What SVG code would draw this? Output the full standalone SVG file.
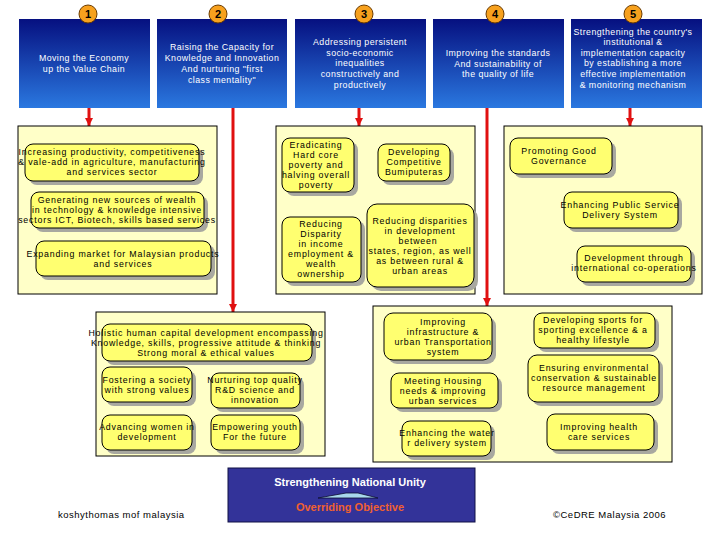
<svg xmlns="http://www.w3.org/2000/svg" width="720" height="540" viewBox="0 0 720 540">
<defs>
<linearGradient id="hdr" x1="0" y1="0" x2="0" y2="1">
<stop offset="0" stop-color="#061080"/>
<stop offset="1" stop-color="#2a78e0"/>
</linearGradient>
<marker id="ah" viewBox="0 0 10 10" refX="10" refY="5" markerWidth="8" markerHeight="9" orient="auto" markerUnits="userSpaceOnUse">
<path d="M0,0 L10,5 L0,10 z" fill="#e01010"/>
</marker>
</defs>
<style>
.hdr{fill:url(#hdr);stroke:none}
.ht{font-family:"Liberation Sans",Arial,sans-serif;font-size:8.8px;fill:#fff;text-anchor:middle;letter-spacing:0.45px}
.num circle{fill:#f7a11e;stroke:#6b3b00;stroke-width:1}
.nt{font-family:"Liberation Sans",Arial,sans-serif;font-size:11px;font-weight:bold;fill:#000;text-anchor:middle}
.panel{fill:#ffffc8;stroke:#000;stroke-width:1}
.sh{fill:#a8a8a0;stroke:none}
.bx{fill:#ffff70;stroke:#000;stroke-width:1}
.t{font-family:"Liberation Sans",Arial,sans-serif;font-size:8.8px;fill:#000;text-anchor:middle;letter-spacing:0.8px}
.red{stroke:#e01010;stroke-width:3;fill:none}
.foot{font-family:"Liberation Sans",Arial,sans-serif;font-size:9.5px;fill:#000;letter-spacing:0.5px}
.ut{font-family:"Liberation Sans",Arial,sans-serif;font-size:11px;font-weight:bold;text-anchor:middle}
</style>
<rect width="720" height="540" fill="#fff"/>

<g id="connectors">
<line class="red" x1="89" y1="108" x2="89" y2="126" marker-end="url(#ah)"/>
<line class="red" x1="233" y1="108" x2="233" y2="312" marker-end="url(#ah)"/>
<line class="red" x1="359" y1="108" x2="359" y2="126" marker-end="url(#ah)"/>
<line class="red" x1="487" y1="108" x2="487" y2="306" marker-end="url(#ah)"/>
<line class="red" x1="630" y1="108" x2="630" y2="126" marker-end="url(#ah)"/>
</g>

<g id="header1">
<rect class="hdr" x="19" y="19" width="131" height="89"/>
<text class="ht" x="84" y="61">Moving the Economy</text>
<text class="ht" x="84" y="72">up the Value Chain</text>
</g>
<g id="header2">
<rect class="hdr" x="157" y="19" width="130" height="89"/>
<text class="ht" x="222" y="50">Raising the Capacity for</text>
<text class="ht" x="222" y="61">Knowledge and Innovation</text>
<text class="ht" x="222" y="72">And nurturing "first</text>
<text class="ht" x="222" y="83">class mentality"</text>
</g>
<g id="header3">
<rect class="hdr" x="295" y="19" width="131" height="89"/>
<text class="ht" x="360" y="45">Addressing persistent</text>
<text class="ht" x="360" y="56">socio-economic</text>
<text class="ht" x="360" y="66">inequalities</text>
<text class="ht" x="360" y="77">constructively and</text>
<text class="ht" x="360" y="88">productively</text>
</g>
<g id="header4">
<rect class="hdr" x="433" y="19" width="131" height="89"/>
<text class="ht" x="498" y="56">Improving the standards</text>
<text class="ht" x="498" y="67">And sustainability of</text>
<text class="ht" x="498" y="77">the quality of life</text>
</g>
<g id="header5">
<rect class="hdr" x="571" y="19" width="131" height="89"/>
<text class="ht" x="633" y="35">Strengthening the country's</text>
<text class="ht" x="633" y="45">institutional &amp;</text>
<text class="ht" x="633" y="56">implementation capacity</text>
<text class="ht" x="633" y="66">by establishing a more</text>
<text class="ht" x="633" y="77">effective implementation</text>
<text class="ht" x="633" y="88">&amp; monitoring mechanism</text>
</g>

<g id="num1" class="num"><circle cx="88" cy="14" r="9"/><text class="nt" x="88" y="18">1</text></g>
<g id="num2" class="num"><circle cx="218" cy="14" r="9"/><text class="nt" x="218" y="18">2</text></g>
<g id="num3" class="num"><circle cx="364" cy="14" r="9"/><text class="nt" x="364" y="18">3</text></g>
<g id="num4" class="num"><circle cx="495" cy="14" r="9"/><text class="nt" x="495" y="18">4</text></g>
<g id="num5" class="num"><circle cx="633" cy="14" r="9"/><text class="nt" x="633" y="18">5</text></g>

<g id="panel1">
<rect class="panel" x="18" y="126" width="199" height="168"/>
<g id="p1a">
<rect class="sh" x="29" y="148" width="174" height="37" rx="8"/>
<rect class="bx" x="25" y="144" width="174" height="37" rx="8"/>
<text class="t" x="112" y="155">Increasing productivity, competitiveness</text>
<text class="t" x="112" y="165">&amp; vale-add in agriculture, manufacturing</text>
<text class="t" x="112" y="175">and services sector</text>
</g>
<g id="p1b">
<rect class="sh" x="35" y="196" width="173" height="36" rx="8"/>
<rect class="bx" x="31" y="192" width="173" height="36" rx="8"/>
<text class="t" x="117" y="203">Generating new sources of wealth</text>
<text class="t" x="117" y="213">in technology &amp; knowledge intensive</text>
<text class="t" x="117" y="223">sectors ICT, Biotech, skills based services</text>
</g>
<g id="p1c">
<rect class="sh" x="40" y="245" width="175" height="35" rx="8"/>
<rect class="bx" x="36" y="241" width="175" height="35" rx="8"/>
<text class="t" x="123" y="257">Expanding market for Malaysian products</text>
<text class="t" x="123" y="267">and services</text>
</g>
</g>

<g id="panel3">
<rect class="panel" x="276" y="126" width="199" height="168"/>
<g id="p3a">
<rect class="sh" x="286" y="142" width="72" height="54" rx="8"/>
<rect class="bx" x="282" y="138" width="72" height="54" rx="8"/>
<text class="t" x="316" y="148">Eradicating</text>
<text class="t" x="316" y="158">Hard core</text>
<text class="t" x="316" y="168">poverty and</text>
<text class="t" x="316" y="178">halving overall</text>
<text class="t" x="316" y="188">poverty</text>
</g>
<g id="p3b">
<rect class="sh" x="382" y="148" width="72" height="37" rx="8"/>
<rect class="bx" x="378" y="144" width="72" height="37" rx="8"/>
<text class="t" x="414" y="155">Developing</text>
<text class="t" x="414" y="165">Competitive</text>
<text class="t" x="414" y="175">Bumiputeras</text>
</g>
<g id="p3c">
<rect class="sh" x="286" y="221" width="79" height="65" rx="8"/>
<rect class="bx" x="282" y="217" width="79" height="65" rx="8"/>
<text class="t" x="321" y="227">Reducing</text>
<text class="t" x="321" y="237">Disparity</text>
<text class="t" x="321" y="247">in income</text>
<text class="t" x="321" y="257">employment &amp;</text>
<text class="t" x="321" y="267">wealth</text>
<text class="t" x="321" y="277">ownership</text>
</g>
<g id="p3d">
<rect class="sh" x="371" y="208" width="107" height="83" rx="10"/>
<rect class="bx" x="367" y="204" width="107" height="83" rx="10"/>
<text class="t" x="420" y="224">Reducing disparities</text>
<text class="t" x="420" y="234">in development</text>
<text class="t" x="418" y="244">between</text>
<text class="t" x="420" y="254">states, region, as well</text>
<text class="t" x="420" y="264">as between rural &amp;</text>
<text class="t" x="420" y="274">urban areas</text>
</g>
</g>

<g id="panel5">
<rect class="panel" x="504" y="126" width="198" height="168"/>
<g id="p5a">
<rect class="sh" x="514" y="142" width="102" height="36" rx="8"/>
<rect class="bx" x="510" y="138" width="102" height="36" rx="8"/>
<text class="t" x="559" y="154">Promoting Good</text>
<text class="t" x="559" y="164">Governance</text>
</g>
<g id="p5b">
<rect class="sh" x="568" y="196" width="114" height="36" rx="8"/>
<rect class="bx" x="564" y="192" width="114" height="36" rx="8"/>
<text class="t" x="620" y="208">Enhancing Public Service</text>
<text class="t" x="620" y="218">Delivery System</text>
</g>
<g id="p5c">
<rect class="sh" x="581" y="250" width="114" height="36" rx="8"/>
<rect class="bx" x="577" y="246" width="114" height="36" rx="8"/>
<text class="t" x="634" y="261">Development through</text>
<text class="t" x="634" y="271">international co-operations</text>
</g>
</g>

<g id="panel2">
<rect class="panel" x="96" y="312" width="229" height="144"/>
<g id="p2a">
<rect class="sh" x="106" y="328" width="210" height="37" rx="8"/>
<rect class="bx" x="102" y="324" width="210" height="37" rx="8"/>
<text class="t" x="206" y="336">Holistic human capital development encompassing</text>
<text class="t" x="206" y="346">Knowledge, skills, progressive attitude &amp; thinking</text>
<text class="t" x="206" y="356">Strong moral &amp; ethical values</text>
</g>
<g id="p2b">
<rect class="sh" x="106" y="371" width="90" height="35" rx="8"/>
<rect class="bx" x="102" y="367" width="90" height="35" rx="8"/>
<text class="t" x="147" y="383">Fostering a society</text>
<text class="t" x="147" y="393">with strong values</text>
</g>
<g id="p2c">
<rect class="sh" x="215" y="377" width="89" height="35" rx="8"/>
<rect class="bx" x="211" y="373" width="89" height="35" rx="8"/>
<text class="t" x="255" y="383">Nurturing top quality</text>
<text class="t" x="255" y="393">R&amp;D science and</text>
<text class="t" x="255" y="403">innovation</text>
</g>
<g id="p2d">
<rect class="sh" x="106" y="419" width="90" height="35" rx="8"/>
<rect class="bx" x="102" y="415" width="90" height="35" rx="8"/>
<text class="t" x="147" y="430">Advancing women in</text>
<text class="t" x="147" y="440">development</text>
</g>
<g id="p2e">
<rect class="sh" x="215" y="419" width="89" height="35" rx="8"/>
<rect class="bx" x="211" y="415" width="89" height="35" rx="8"/>
<text class="t" x="255" y="430">Empowering youth</text>
<text class="t" x="255" y="440">For the future</text>
</g>
</g>

<g id="panel4">
<rect class="panel" x="373" y="306" width="299" height="156"/>
<g id="p4a">
<rect class="sh" x="388" y="317" width="108" height="47" rx="9"/>
<rect class="bx" x="384" y="313" width="108" height="47" rx="9"/>
<text class="t" x="443" y="325">Improving</text>
<text class="t" x="443" y="335">infrastructure &amp;</text>
<text class="t" x="443" y="345">urban Transportation</text>
<text class="t" x="443" y="355">system</text>
</g>
<g id="p4b">
<rect class="sh" x="395" y="377" width="107" height="35" rx="8"/>
<rect class="bx" x="391" y="373" width="107" height="35" rx="8"/>
<text class="t" x="443" y="384">Meeting Housing</text>
<text class="t" x="443" y="394">needs &amp; improving</text>
<text class="t" x="443" y="404">urban services</text>
</g>
<g id="p4c">
<rect class="sh" x="406" y="425" width="89" height="35" rx="8"/>
<rect class="bx" x="402" y="421" width="89" height="35" rx="8"/>
<text class="t" x="447" y="436">Enhancing the water</text>
<text class="t" x="447" y="446">r delivery system</text>
</g>
<g id="p4d">
<rect class="sh" x="538" y="317" width="121" height="35" rx="8"/>
<rect class="bx" x="534" y="313" width="121" height="35" rx="8"/>
<text class="t" x="593" y="323">Developing sports for</text>
<text class="t" x="593" y="333">sporting excellence &amp; a</text>
<text class="t" x="593" y="343">healthy lifestyle</text>
</g>
<g id="p4e">
<rect class="sh" x="532" y="359" width="131" height="47" rx="9"/>
<rect class="bx" x="528" y="355" width="131" height="47" rx="9"/>
<text class="t" x="594" y="371">Ensuring environmental</text>
<text class="t" x="594" y="381">conservation &amp; sustainable</text>
<text class="t" x="594" y="391">resource management</text>
</g>
<g id="p4f">
<rect class="sh" x="551" y="418" width="107" height="36" rx="8"/>
<rect class="bx" x="547" y="414" width="107" height="36" rx="8"/>
<text class="t" x="599" y="430">Improving health</text>
<text class="t" x="599" y="440">care services</text>
</g>
</g>

<g id="unity">
<rect x="228" y="468" width="247" height="54" fill="#333399" stroke="#111144" stroke-width="1"/>
<text class="ut" x="350" y="486" fill="#fff">Strengthening National Unity</text>
<polygon points="318,498 346,493 358,493 378,498" fill="#a8d8ec" stroke="#0a0a30" stroke-width="0.8"/>
<text class="ut" x="350" y="511" fill="#f06030">Overriding Objective</text>
</g>

<text class="foot" x="58" y="518">koshythomas  mof malaysia</text>
<text class="foot" x="553" y="518">©CeDRE Malaysia 2006</text>
</svg>
